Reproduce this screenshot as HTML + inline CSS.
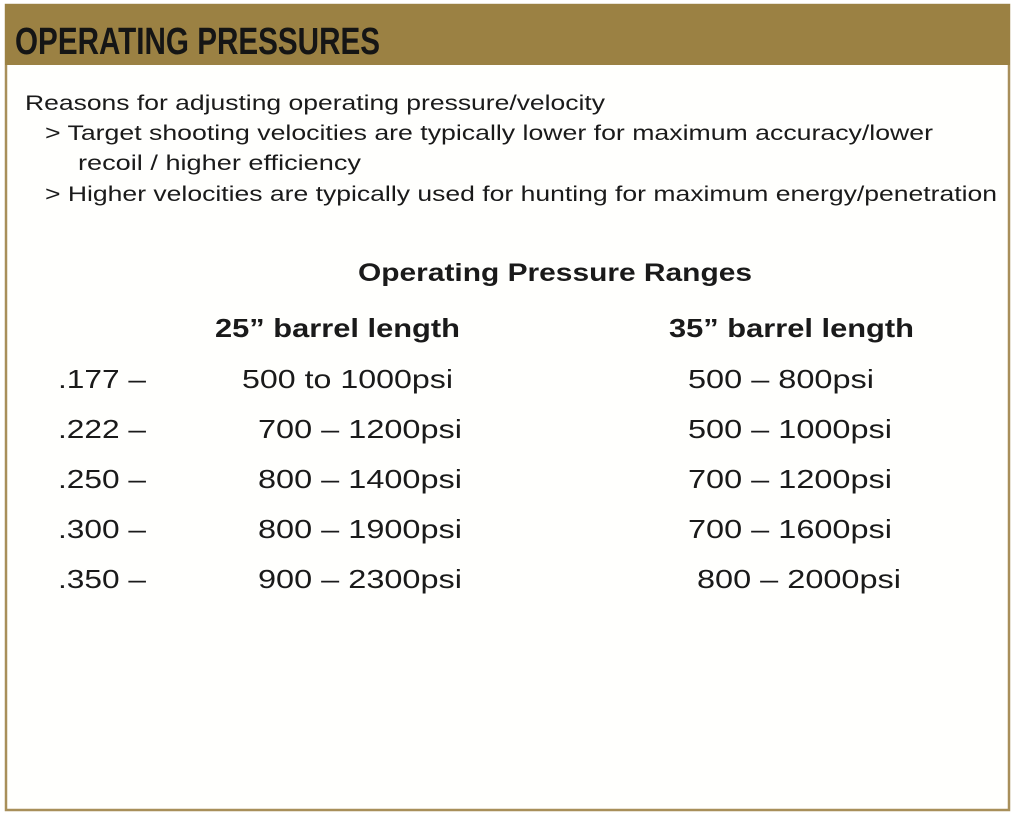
<!DOCTYPE html>
<html><head><meta charset="utf-8"><style>
html,body{margin:0;padding:0;background:#fff;}
svg{display:block;font-family:"Liberation Sans",sans-serif;}
</style></head><body>
<svg width="1015" height="817" viewBox="0 0 1015 817">
<rect x="0" y="0" width="1015" height="817" fill="#fff"/>
<rect x="6" y="5" width="1003" height="805" fill="#fffffd" stroke="#a88f5a" stroke-width="2.5"/>
<rect x="5" y="4" width="1005" height="61" fill="#9b8143"/>
<text x="15" y="54" font-size="38" font-weight="bold" fill="#151515" textLength="365" lengthAdjust="spacingAndGlyphs">OPERATING PRESSURES</text>
<g font-size="21" fill="#1a1a1a">
<text x="25" y="110" textLength="580" lengthAdjust="spacingAndGlyphs">Reasons for adjusting operating pressure/velocity</text>
<text x="45" y="140" textLength="888" lengthAdjust="spacingAndGlyphs">&gt; Target shooting velocities are typically lower for maximum accuracy/lower</text>
<text x="78" y="170" textLength="283" lengthAdjust="spacingAndGlyphs">recoil / higher efficiency</text>
<text x="45" y="201" textLength="952" lengthAdjust="spacingAndGlyphs">&gt; Higher velocities are typically used for hunting for maximum energy/penetration</text>
</g>
<text x="358" y="281" font-size="25" font-weight="bold" fill="#1a1a1a" textLength="394" lengthAdjust="spacingAndGlyphs">Operating Pressure Ranges</text>
<text x="215" y="337" font-size="26" font-weight="bold" fill="#1a1a1a" textLength="245" lengthAdjust="spacingAndGlyphs">25” barrel length</text>
<text x="669" y="337" font-size="26" font-weight="bold" fill="#1a1a1a" textLength="245" lengthAdjust="spacingAndGlyphs">35” barrel length</text>
<g font-size="26" fill="#1a1a1a">
<text x="58" y="388" textLength="88" lengthAdjust="spacingAndGlyphs">.177 –</text>
<text x="242" y="388" textLength="211" lengthAdjust="spacingAndGlyphs">500 to 1000psi</text>
<text x="688" y="388" textLength="186" lengthAdjust="spacingAndGlyphs">500 – 800psi</text>
<text x="58" y="438" textLength="88" lengthAdjust="spacingAndGlyphs">.222 –</text>
<text x="258" y="438" textLength="204" lengthAdjust="spacingAndGlyphs">700 – 1200psi</text>
<text x="688" y="438" textLength="204" lengthAdjust="spacingAndGlyphs">500 – 1000psi</text>
<text x="58" y="488" textLength="88" lengthAdjust="spacingAndGlyphs">.250 –</text>
<text x="258" y="488" textLength="204" lengthAdjust="spacingAndGlyphs">800 – 1400psi</text>
<text x="688" y="488" textLength="204" lengthAdjust="spacingAndGlyphs">700 – 1200psi</text>
<text x="58" y="538" textLength="88" lengthAdjust="spacingAndGlyphs">.300 –</text>
<text x="258" y="538" textLength="204" lengthAdjust="spacingAndGlyphs">800 – 1900psi</text>
<text x="688" y="538" textLength="204" lengthAdjust="spacingAndGlyphs">700 – 1600psi</text>
<text x="58" y="588" textLength="88" lengthAdjust="spacingAndGlyphs">.350 –</text>
<text x="258" y="588" textLength="204" lengthAdjust="spacingAndGlyphs">900 – 2300psi</text>
<text x="697" y="588" textLength="204" lengthAdjust="spacingAndGlyphs">800 – 2000psi</text>
</g>
</svg>
</body></html>
